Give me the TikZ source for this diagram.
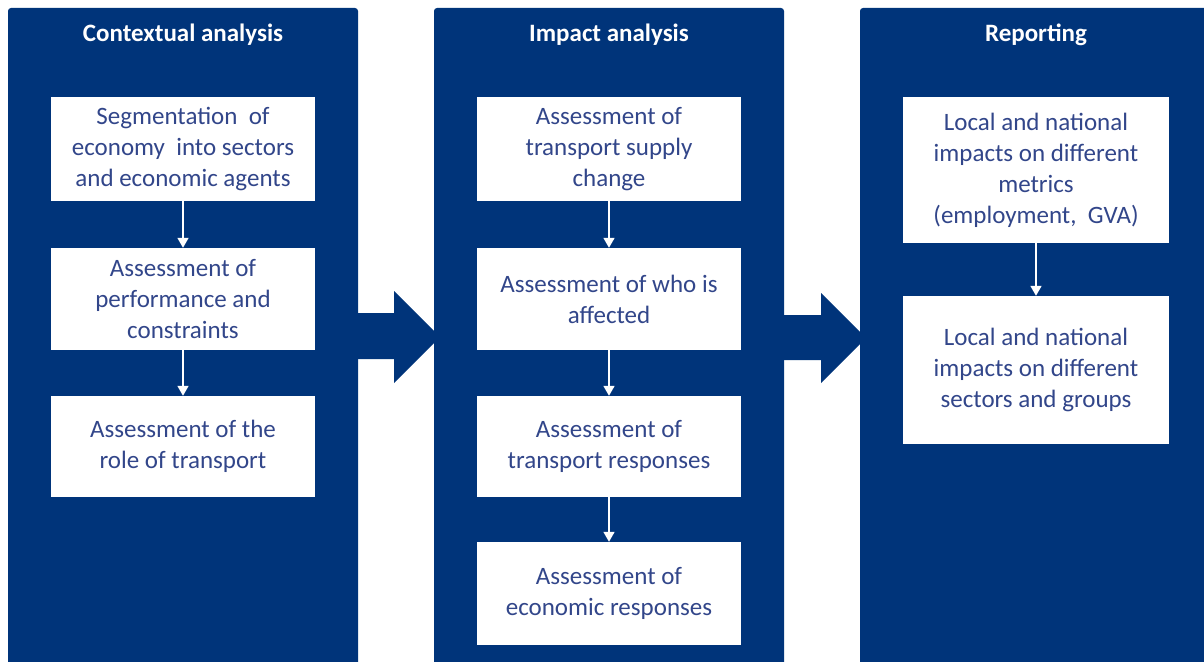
\documentclass[tikz,border=0pt]{standalone}
\usepackage{fontspec}
\setmainfont{Carlito}
\usetikzlibrary{arrows.meta}
\definecolor{navy}{RGB}{0,52,122}
\definecolor{boxtext}{RGB}{50,70,138}
\tikzset{
  column/.style={fill=navy, rounded corners=3pt},
  coltitle/.style={text=white, font=\fontsize{25}{31}\selectfont\bfseries},
  stepbox/.style={fill=white, text=boxtext, align=center, inner sep=0pt,
    font=\fontsize{25}{31}\selectfont},
  flow/.style={draw=white, line width=1.6pt, -{Triangle[width=11pt,length=10pt]}},
  bigarrow/.style={fill=navy}
}
\begin{document}
\begin{tikzpicture}[x=1pt,y=-1pt]
\useasboundingbox (0,0) rectangle (1204,661);
\clip (0,0) rectangle (1204,661);

% columns
\fill[column] (8,8) rectangle (358,680);
\fill[column] (434,8) rectangle (784,680);
\fill[column] (860,8) rectangle (1230,680);

% arrows between the columns
\fill[bigarrow] (350,313) -- (394,313) -- (394,291) -- (440,337) -- (394,383)
  -- (394,359) -- (350,359) -- cycle;
\fill[bigarrow] (776,315) -- (821,315) -- (821,293) -- (866,338) -- (821,383)
  -- (821,360) -- (776,360) -- cycle;

% column titles
\node[coltitle] (t1) at (183,35) {Contextual analysis};
\node[coltitle] (t2) at (609,35) {Impact analysis};
\node[coltitle] (t3) at (1036,35) {Reporting};

% contextual analysis
\node[stepbox, minimum width=264pt, minimum height=104pt] (l1) at (183,149)
  {Segmentation\ \ of\\economy\ \ into sectors\\and economic agents};
\node[stepbox, minimum width=264pt, minimum height=102pt] (l2) at (183,299)
  {Assessment of\\performance and\\constraints};
\node[stepbox, minimum width=264pt, minimum height=101pt] (l3) at (183,446.5)
  {Assessment of the\\role of transport};

% impact analysis
\node[stepbox, minimum width=264pt, minimum height=104pt] (m1) at (609,149)
  {Assessment of\\transport supply\\change};
\node[stepbox, minimum width=264pt, minimum height=102pt] (m2) at (609,299)
  {Assessment of who is\\affected};
\node[stepbox, minimum width=264pt, minimum height=101pt] (m3) at (609,446.5)
  {Assessment of\\transport responses};
\node[stepbox, minimum width=264pt, minimum height=103pt] (m4) at (609,593.5)
  {Assessment of\\economic responses};

% reporting
\node[stepbox, minimum width=266pt, minimum height=146pt] (r1) at (1036,170)
  {Local and national\\impacts on different\\metrics\\(employment,\ \ GVA)};
\node[stepbox, minimum width=266pt, minimum height=148pt] (r2) at (1036,370)
  {Local and national\\impacts on different\\sectors and groups};

% flow within each column
\draw[flow] (l1.south) -- (l2.north);
\draw[flow] (l2.south) -- (l3.north);
\draw[flow] (m1.south) -- (m2.north);
\draw[flow] (m2.south) -- (m3.north);
\draw[flow] (m3.south) -- (m4.north);
\draw[flow] (r1.south) -- (r2.north);
\end{tikzpicture}
\end{document}
